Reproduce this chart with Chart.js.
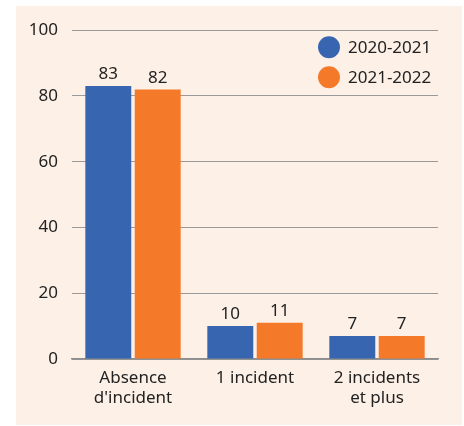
<!DOCTYPE html>
<html>
<head>
<meta charset="utf-8">
<script src="https://cdn.jsdelivr.net/npm/chart.js@4.4.0/dist/chart.umd.min.js"></script>
<style>
  html, body { margin: 0; padding: 0; background: #ffffff; }
  .box { position: absolute; left: 16px; top: 6px; width: 446px; height: 419px; background: #fdf0e7; }
</style>
</head>
<body>
<div class="box"><canvas id="myChart" width="446" height="419"></canvas></div>
<script>
const categories = [["Absence", "d'incident"], "1 incident", ["2 incidents", "et plus"]];
const seriesNames = ["2020-2021", "2021-2022"];
const values2021 = [83, 10, 7];
const values2022 = [82, 11, 7];
const tickValues = [0, 20, 40, 60, 80, 100];

const colors = ["#3765b0", "#f47a2a"];
const textColor = "#222222";
const fontFamily = "'Noto Sans', sans-serif";

// value labels above each bar
const barLabels = {
    id: "barLabels",
    afterDatasetsDraw(chart) {
        const ctx = chart.ctx;
        ctx.save();
        ctx.font = "17px " + fontFamily;
        ctx.fillStyle = textColor;
        ctx.textAlign = "center";
        ctx.textBaseline = "bottom";
        chart.data.datasets.forEach((ds, i) => {
            chart.getDatasetMeta(i).data.forEach((bar, j) => {
                ctx.fillText(ds.data[j], bar.x, bar.y - 3);
            });
        });
        ctx.restore();
    }
};

// legend drawn inside the plot, top right
const innerLegend = {
    id: "innerLegend",
    afterDraw(chart) {
        const ctx = chart.ctx;
        const area = chart.chartArea;
        ctx.save();
        ctx.font = "17px " + fontFamily;
        ctx.textBaseline = "middle";
        chart.data.datasets.forEach((ds, i) => {
            const y = area.top + 17 + i * 30;
            const x = area.left + 257;
            ctx.fillStyle = ds.backgroundColor;
            ctx.beginPath();
            ctx.arc(x, y, 11, 0, Math.PI * 2);
            ctx.fill();
            ctx.fillStyle = textColor;
            ctx.textAlign = "left";
            ctx.fillText(ds.label, x + 19, y + 1);
        });
        ctx.restore();
    }
};

const myChartRef = document.getElementById("myChart").getContext("2d");

new Chart(myChartRef, {
    type: "bar",
    data: {
        labels: categories,
        datasets: [
            { label: seriesNames[0], data: values2021, backgroundColor: colors[0] },
            { label: seriesNames[1], data: values2022, backgroundColor: colors[1] }
        ]
    },
    options: {
        responsive: false,
        animation: false,
        devicePixelRatio: 1,
        categoryPercentage: 0.81,
        barPercentage: 0.93,
        layout: { padding: { top: 24, right: 24, left: 0, bottom: 0 } },
        plugins: {
            legend: { display: false },
            tooltip: { enabled: false }
        },
        scales: {
            x: {
                grid: { display: false, drawTicks: false },
                border: { display: true, color: "#8c8c8c", width: 1.5 },
                ticks: { color: textColor, font: { family: fontFamily, size: 17 }, padding: 9, maxRotation: 0 },
                afterFit(scale) { scale.height = 66; }
            },
            y: {
                min: 0,
                max: 100,
                afterBuildTicks(scale) { scale.ticks = tickValues.map(v => ({ value: v })); },
                grid: { color: "#9a9a9a", lineWidth: 1, drawTicks: false },
                border: { display: false },
                ticks: { color: textColor, font: { family: fontFamily, size: 17 }, padding: 14 },
                afterFit(scale) { scale.width = 56; }
            }
        }
    },
    plugins: [barLabels, innerLegend]
});
</script>
</body>
</html>
